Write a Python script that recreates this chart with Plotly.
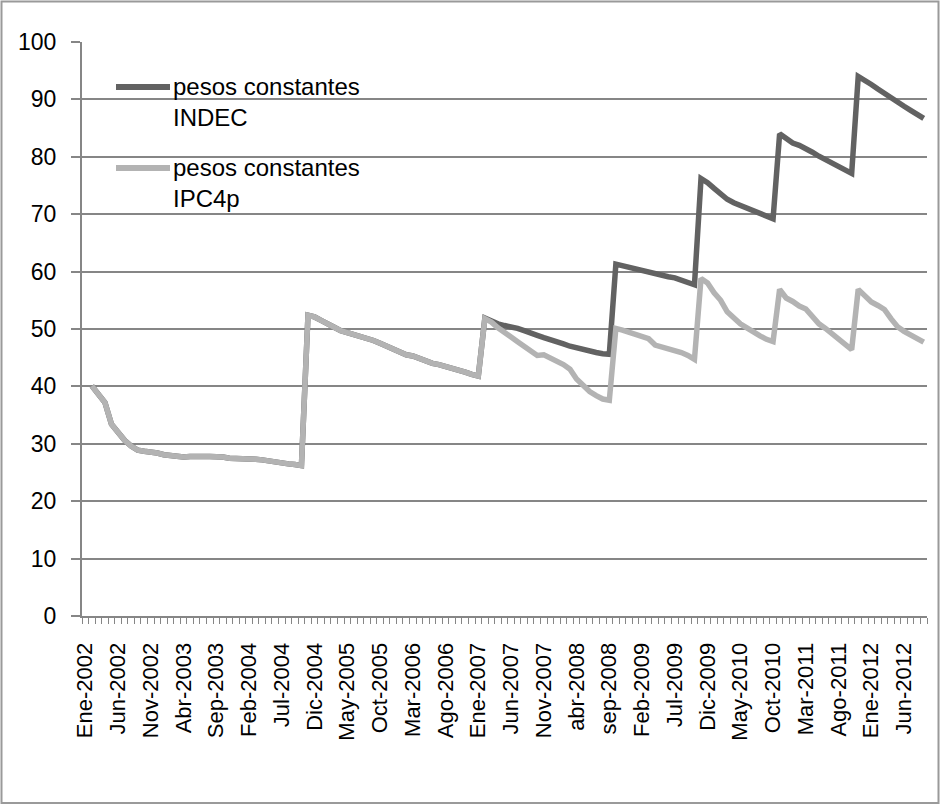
import plotly.graph_objects as go

# ---- data -------------------------------------------------------------
meses = ["Ene", "Feb", "Mar", "Abr", "May", "Jun", "Jul", "Ago", "Sep", "Oct", "Nov", "Dic"]
categorias = [f"{m}-{a}" for a in range(2002, 2013) for m in meses][:129]  # Ene-2002 .. Sep-2012

tick_labels = ["Ene-2002", "Jun-2002", "Nov-2002", "Abr-2003", "Sep-2003", "Feb-2004",
               "Jul-2004", "Dic-2004", "May-2005", "Oct-2005", "Mar-2006", "Ago-2006",
               "Ene-2007", "Jun-2007", "Nov-2007", "abr-2008", "sep-2008", "Feb-2009",
               "Jul-2009", "Dic-2009", "May-2010", "Oct-2010", "Mar-2011", "Ago-2011",
               "Ene-2012", "Jun-2012"]

series_names = ["pesos constantes<br>INDEC", "pesos constantes<br>IPC4p"]

ipc4p = [None,
         40.1, 38.6, 37.2, 33.4, 31.8, 30.6, 29.6, 28.9, 28.7, 28.6,
         28.4, 28.1, 27.9, 27.8, 27.7, 27.8, 27.9, 27.8, 27.8, 27.8,
         27.7, 27.5, 27.5, 27.5, 27.4, 27.3, 27.2, 27.0, 26.7, 26.6,
         26.5, 26.4, 26.2, 52.4, 52.1, 51.5, 50.8, 50.3, 49.7, 49.4,
         49.1, 48.7, 48.3, 48.0, 47.5, 47.0, 46.5, 46.0, 45.5, 45.3,
         44.8, 44.3, 44.0, 43.8, 43.5, 43.3, 42.9, 42.5, 42.1, 41.8,
         51.8, 51.2, 50.2, 49.5, 48.6, 47.8, 47.0, 46.2, 45.4, 45.5,
         45.0, 44.4, 43.8, 43.0, 41.3, 40.2, 39.1, 38.4, 37.8, 37.6,
         50.1, 49.8, 49.4, 49.1, 48.8, 48.3, 47.2, 46.9, 46.6, 46.3,
         45.9, 45.4, 44.7, 58.8, 58.0, 56.3, 55.0, 53.0, 51.9, 50.9,
         50.2, 49.4, 48.8, 48.2, 47.8, 56.9, 55.4, 54.8, 54.0, 53.5,
         52.1, 50.9, 50.1, 49.2, 48.2, 47.2, 46.4, 56.9, 55.8, 54.7,
         54.1, 53.4, 51.8, 50.4, 49.6, 48.9, 48.2, 47.7]

indec = [None,
         40.1, 38.6, 37.2, 33.4, 31.8, 30.6, 29.6, 28.9, 28.7, 28.6,
         28.4, 28.1, 27.9, 27.8, 27.7, 27.8, 27.9, 27.8, 27.8, 27.8,
         27.7, 27.5, 27.5, 27.5, 27.4, 27.3, 27.2, 27.0, 26.7, 26.6,
         26.5, 26.4, 26.2, 52.4, 52.1, 51.5, 50.8, 50.3, 49.7, 49.4,
         49.1, 48.7, 48.3, 48.0, 47.5, 47.0, 46.5, 46.0, 45.5, 45.3,
         44.8, 44.3, 44.0, 43.8, 43.5, 43.3, 42.9, 42.5, 42.1, 41.8,
         51.9, 51.3, 50.9, 50.6, 50.4, 50.1, 49.7, 49.2, 48.9, 48.5,
         48.2, 47.8, 47.4, 47.0, 46.7, 46.3, 46.1, 45.9, 45.7, 45.6,
         61.3, 61.0, 60.7, 60.4, 60.2, 59.8, 59.5, 59.3, 59.1, 58.9,
         58.5, 58.1, 57.7, 76.2, 75.5, 74.5, 73.5, 72.6, 72.0, 71.5,
         71.1, 70.6, 70.1, 69.6, 69.2, 84.0, 83.2, 82.4, 82.0, 81.5,
         80.8, 80.1, 79.5, 78.9, 78.3, 77.7, 77.1, 94.0, 93.4, 92.6,
         91.8, 91.0, 90.2, 89.4, 88.8, 88.1, 87.4, 86.7]

colors = ["#626262", "#b3b3b3"]

# ---- figure -----------------------------------------------------------
FONT = "Arial, Liberation Sans, sans-serif"
GRID = "#868686"
x_idx = list(range(len(categorias)))

fig = go.Figure()
for name, vals, col in zip(series_names, [indec, ipc4p], colors):
    fig.add_trace(go.Scatter(x=x_idx, y=vals, mode="lines", name=name,
                             line=dict(color=col, width=5.5), text=categorias,
                             hovertemplate="%{text}: %{y}<extra></extra>"))

L, R, T, B = 82, 14, 42, 189
W, H = 941, 805
pw, ph = W - L - R, H - T - B

def px(x):
    return (x - L) / pw

def py(y):
    return (H - B - y) / ph

# manual legend (long line samples, Excel style)
shapes = [dict(type="rect", xref="paper", yref="paper",
               x0=px(1.5), x1=px(938.5), y0=py(803), y1=py(1.5),
               line=dict(color="#9a9a9a", width=2), fillcolor="rgba(0,0,0,0)", layer="below")]
annotations = []
for k, (name, col) in enumerate(zip(series_names, colors)):
    yc = 87 + 81 * k
    shapes.append(dict(type="line", xref="paper", yref="paper",
                       x0=px(116), x1=px(170), y0=py(yc), y1=py(yc),
                       line=dict(color=col, width=6)))
    annotations.append(dict(xref="paper", yref="paper", x=px(171), y=py(yc - 16),
                            xanchor="left", yanchor="top", align="left", showarrow=False,
                            text=name, font=dict(size=24, family=FONT, color="#000000")))

fig.update_layout(
    width=W, height=H,
    margin=dict(l=L, r=R, t=T, b=B),
    paper_bgcolor="white", plot_bgcolor="white",
    font=dict(family=FONT, size=22, color="#000000"),
    showlegend=False,
    xaxis=dict(range=[-0.5, len(categorias) - 0.5], tickmode="array",
               tickvals=[i * 5 for i in range(len(tick_labels))], ticktext=tick_labels,
               tickangle=-90, ticks="", showgrid=False, zeroline=False,
               showline=True, linecolor=GRID, linewidth=2,
               ticklabelstandoff=16,
               minor=dict(tick0=-0.5, dtick=1, ticks="outside", ticklen=6,
                          tickcolor=GRID, tickwidth=1, showgrid=False),
               tickfont=dict(size=22, family=FONT, color="#000000")),
    yaxis=dict(range=[0, 100], tickmode="array", tickvals=list(range(0, 101, 10)),
               showgrid=True, gridcolor=GRID, gridwidth=1.5, zeroline=False,
               showline=True, linecolor=GRID, linewidth=2,
               ticks="outside", ticklen=9, tickcolor=GRID, tickwidth=1.5,
               ticklabelstandoff=10, tickfont=dict(size=23, family=FONT, color="#000000")),
    shapes=shapes,
    annotations=annotations,
)

fig.write_html("out.html")
